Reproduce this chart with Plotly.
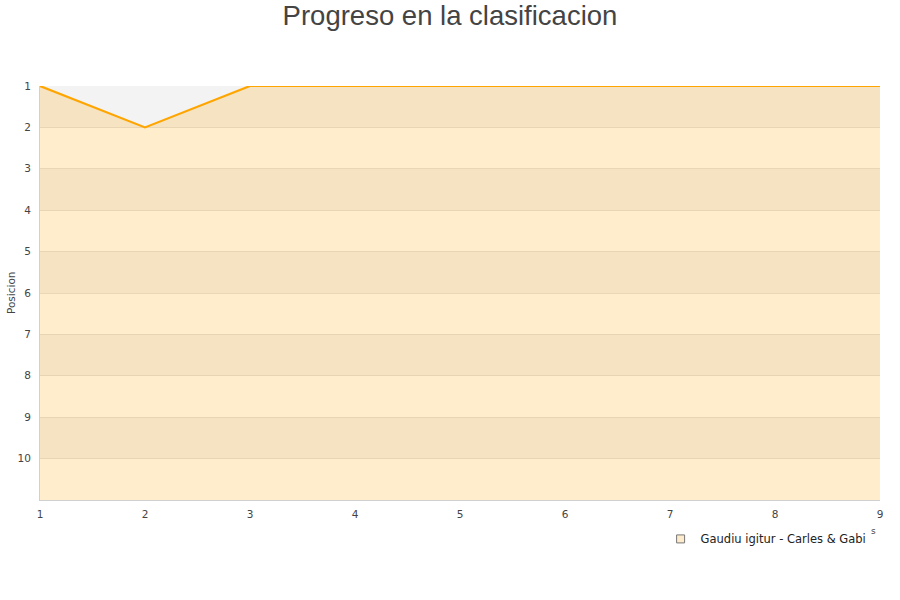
import plotly.graph_objects as go

jornadas = [1, 2, 3, 4, 5, 6, 7, 8, 9]
posiciones = [1, 2, 1, 1, 1, 1, 1, 1, 1]
serie = "Gaudiu igitur - Carles & Gabi"
y_ticks = [1, 2, 3, 4, 5, 6, 7, 8, 9, 10]
bandas_grises = [(1, 2), (3, 4), (5, 6), (7, 8), (9, 10)]
y_fondo = 11

fig = go.Figure()

# baseline for fill
fig.add_trace(go.Scatter(x=jornadas, y=[y_fondo] * len(jornadas), mode="lines",
                         line=dict(width=0), showlegend=False, hoverinfo="skip"))
fig.add_trace(go.Scatter(x=jornadas, y=posiciones, mode="lines",
                         line=dict(color="#FFA500", width=2.2),
                         fill="tonexty", fillcolor="rgba(255,165,0,0.2)",
                         showlegend=False, name=serie))
fig.add_trace(go.Scatter(x=[None], y=[None], mode="markers", name=serie,
                         marker=dict(symbol="square", size=8, color="#FDEBCB",
                                     line=dict(color="#777", width=1))))

shapes = []
for a, b in bandas_grises:
    shapes.append(dict(type="rect", xref="paper", yref="y", x0=0, x1=1, y0=a, y1=b,
                       fillcolor="#F3F3F3", line=dict(width=0), layer="below"))

fig.update_layout(
    width=900, height=600,
    paper_bgcolor="white", plot_bgcolor="white",
    margin=dict(l=40, r=20, t=86, b=100, autoexpand=False),
    title=dict(text="Progreso en la clasificacion", x=0.5, xanchor="center",
               y=0.975, yanchor="middle",
               font=dict(family="Liberation Sans, Arial, sans-serif", size=27.5, color="#444")),
    font=dict(family="DejaVu Sans, sans-serif", size=11, color="#444"),
    shapes=shapes,
    annotations=[
        dict(text="Posicion", xref="paper", yref="paper", x=-0.0345, y=0.5,
             xanchor="center", yanchor="middle", textangle=-90, showarrow=False,
             font=dict(size=10.5, color="#444")),
        dict(text="s", xref="paper", yref="paper", x=0.9925, y=-0.075,
             xanchor="center", yanchor="middle", showarrow=False,
             font=dict(size=9, color="#444")),
    ],
    xaxis=dict(range=[1, 9], tickvals=jornadas, showgrid=False, zeroline=False,
               showline=True, linecolor="#D0D0D0", linewidth=1, ticks="",
               automargin=False,
               ticklabelstandoff=4, tickfont=dict(size=10.5, color="#444")),
    yaxis=dict(range=[y_fondo, 1], tickvals=y_ticks, showgrid=True,
               gridcolor="rgba(210,210,210,0.6)", zeroline=False,
               showline=True, linecolor="#D0D0D0", linewidth=1, ticks="",
               automargin=False,
               ticklabelstandoff=6,
               tickfont=dict(size=10.5, color="#444")),
    legend=dict(x=0.99, xanchor="right", y=-0.094, yanchor="middle",
                bgcolor="rgba(0,0,0,0)", font=dict(size=11.5, color="#222"),
                itemsizing="trace"),
    showlegend=True,
)

fig.write_html("out.html", config={"displayModeBar": False},
               post_script="document.body.style.margin='0px';")
